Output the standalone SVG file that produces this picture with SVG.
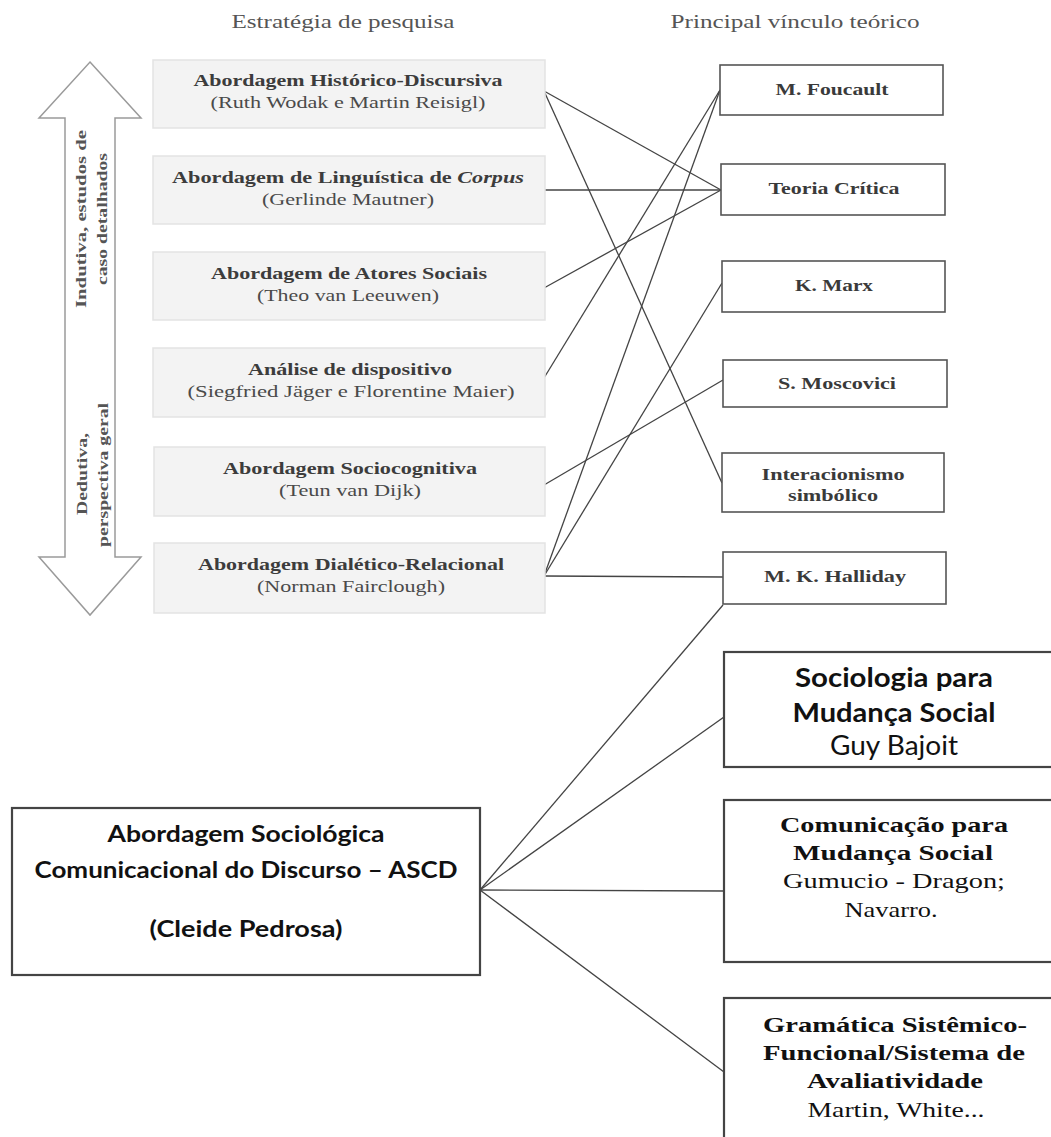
<svg xmlns="http://www.w3.org/2000/svg" width="1051" height="1137" viewBox="0 0 1051 1137">
<style>
.hdr{font-family:"Liberation Serif","Times New Roman",serif;font-size:19px;fill:#555;text-anchor:middle}
.lb{fill:#f3f3f3;stroke:#e3e3e3;stroke-width:1.5}
.lt{font-family:"Liberation Serif","Times New Roman",serif;font-size:17px;font-weight:bold;fill:#3c3c3c;text-anchor:middle}
.ls{font-family:"Liberation Serif","Times New Roman",serif;font-size:17px;fill:#4a4a4a;text-anchor:middle}
.rb{fill:#fff;stroke:#555;stroke-width:1.6}
.rt{font-family:"Liberation Serif","Times New Roman",serif;font-size:17px;font-weight:bold;fill:#3a3a3a;text-anchor:middle}
.at{font-family:"Liberation Serif","Times New Roman",serif;font-size:15px;font-weight:bold;fill:#555;text-anchor:middle}
.bb{fill:#fff;stroke:#444;stroke-width:2.2}
.cb{font-family:"Lato","Open Sans",sans-serif;font-weight:bold;fill:#111;text-anchor:middle}
.cr{font-family:"Lato","Open Sans",sans-serif;fill:#111;text-anchor:middle}
.sb{font-family:"Liberation Serif","Times New Roman",serif;font-size:22px;font-weight:bold;fill:#111;text-anchor:middle}
.sr{font-family:"Liberation Serif","Times New Roman",serif;font-size:22px;fill:#111;text-anchor:middle}
.cn{stroke:#444;stroke-width:1.3;fill:none}
</style>
<rect x="0" y="0" width="1051" height="1137" fill="#fff"/>

<text class="hdr" x="343" y="28" textLength="223" lengthAdjust="spacingAndGlyphs">Estratégia de pesquisa</text>
<text class="hdr" x="795" y="28" textLength="249" lengthAdjust="spacingAndGlyphs">Principal vínculo teórico</text>

<g id="arrow">
<polygon points="90,62 141,118 115,118 115,557 141,557 90,615 39,557 65,557 65,118 39,118" fill="#fff" stroke="#9a9a9a" stroke-width="1.5"/>
<text class="at" transform="translate(86,219) rotate(-90)" textLength="178" lengthAdjust="spacingAndGlyphs">Indutiva, estudos de</text>
<text class="at" transform="translate(107,219) rotate(-90)" textLength="132" lengthAdjust="spacingAndGlyphs">caso detalhados</text>
<text class="at" transform="translate(87,474) rotate(-90)" textLength="82" lengthAdjust="spacingAndGlyphs">Dedutiva,</text>
<text class="at" transform="translate(108,475) rotate(-90)" textLength="144" lengthAdjust="spacingAndGlyphs">perspectiva geral</text>
</g>

<g id="connectors">
<line class="cn" x1="544" y1="91" x2="721" y2="190"/>
<line class="cn" x1="544" y1="91" x2="722" y2="483"/>
<line class="cn" x1="544" y1="190" x2="721" y2="190"/>
<line class="cn" x1="544" y1="288" x2="721" y2="190"/>
<line class="cn" x1="544" y1="378" x2="720" y2="90"/>
<line class="cn" x1="544" y1="485" x2="723" y2="380"/>
<line class="cn" x1="544" y1="576" x2="720" y2="90"/>
<line class="cn" x1="544" y1="576" x2="722" y2="283"/>
<line class="cn" x1="544" y1="576" x2="723" y2="577"/>
<line class="cn" x1="723" y1="605" x2="480" y2="890"/>
<line class="cn" x1="480" y1="890" x2="724" y2="717"/>
<line class="cn" x1="480" y1="890" x2="724" y2="891"/>
<line class="cn" x1="480" y1="890" x2="724" y2="1072"/>
</g>

<g id="s1">
<rect class="lb" x="153" y="60" width="392" height="68"/>
<text class="lt" x="348" y="86" textLength="309" lengthAdjust="spacingAndGlyphs">Abordagem Histórico-Discursiva</text>
<text class="ls" x="348" y="108" textLength="275" lengthAdjust="spacingAndGlyphs">(Ruth Wodak e Martin Reisigl)</text>
</g>
<g id="s2">
<rect class="lb" x="153" y="156" width="392" height="68"/>
<text class="lt" x="348" y="183" textLength="352" lengthAdjust="spacingAndGlyphs">Abordagem de Linguística de <tspan font-style="italic">Corpus</tspan></text>
<text class="ls" x="348" y="205" textLength="172" lengthAdjust="spacingAndGlyphs">(Gerlinde Mautner)</text>
</g>
<g id="s3">
<rect class="lb" x="153" y="252" width="392" height="68"/>
<text class="lt" x="349" y="279" textLength="276" lengthAdjust="spacingAndGlyphs">Abordagem de Atores Sociais</text>
<text class="ls" x="348" y="301" textLength="182" lengthAdjust="spacingAndGlyphs">(Theo van Leeuwen)</text>
</g>
<g id="s4">
<rect class="lb" x="153" y="348" width="392" height="69"/>
<text class="lt" x="350" y="375" textLength="204" lengthAdjust="spacingAndGlyphs">Análise de dispositivo</text>
<text class="ls" x="351" y="397" textLength="327" lengthAdjust="spacingAndGlyphs">(Siegfried Jäger e Florentine Maier)</text>
</g>
<g id="s5">
<rect class="lb" x="154" y="447" width="391" height="69"/>
<text class="lt" x="350" y="474" textLength="254" lengthAdjust="spacingAndGlyphs">Abordagem Sociocognitiva</text>
<text class="ls" x="350" y="496" textLength="142" lengthAdjust="spacingAndGlyphs">(Teun van Dijk)</text>
</g>
<g id="s6">
<rect class="lb" x="154" y="543" width="391" height="70"/>
<text class="lt" x="351" y="570" textLength="306" lengthAdjust="spacingAndGlyphs">Abordagem Dialético-Relacional</text>
<text class="ls" x="351" y="592" textLength="188" lengthAdjust="spacingAndGlyphs">(Norman Fairclough)</text>
</g>

<g id="t1">
<rect class="rb" x="720" y="65" width="223" height="50"/>
<text class="rt" x="832" y="95" textLength="113" lengthAdjust="spacingAndGlyphs">M. Foucault</text>
</g>
<g id="t2">
<rect class="rb" x="721" y="164" width="224" height="51"/>
<text class="rt" x="834" y="194" textLength="131" lengthAdjust="spacingAndGlyphs">Teoria Crítica</text>
</g>
<g id="t3">
<rect class="rb" x="722" y="261" width="223" height="51"/>
<text class="rt" x="834" y="291" textLength="78" lengthAdjust="spacingAndGlyphs">K. Marx</text>
</g>
<g id="t4">
<rect class="rb" x="723" y="360" width="224" height="47"/>
<text class="rt" x="837" y="389" textLength="118" lengthAdjust="spacingAndGlyphs">S. Moscovici</text>
</g>
<g id="t5">
<rect class="rb" x="722" y="453" width="222" height="59"/>
<text class="rt" x="833" y="480" textLength="143" lengthAdjust="spacingAndGlyphs">Interacionismo</text>
<text class="rt" x="833" y="501" textLength="90" lengthAdjust="spacingAndGlyphs">simbólico</text>
</g>
<g id="t6">
<rect class="rb" x="723" y="552" width="223" height="52"/>
<text class="rt" x="835" y="582" textLength="142" lengthAdjust="spacingAndGlyphs">M. K. Halliday</text>
</g>

<g id="ascd">
<rect class="bb" x="12" y="808" width="468" height="167"/>
<text class="cb" x="246" y="842" font-size="23" textLength="277" lengthAdjust="spacingAndGlyphs">Abordagem Sociológica</text>
<text class="cb" x="246" y="878" font-size="23" textLength="423" lengthAdjust="spacingAndGlyphs">Comunicacional do Discurso – ASCD</text>
<text class="cb" x="246" y="937" font-size="23" textLength="193" lengthAdjust="spacingAndGlyphs">(Cleide Pedrosa)</text>
</g>

<g id="b1">
<rect class="bb" x="724" y="652" width="340" height="115"/>
<text class="cb" x="894" y="687" font-size="26" textLength="198" lengthAdjust="spacingAndGlyphs">Sociologia para</text>
<text class="cb" x="894" y="722" font-size="26" textLength="203" lengthAdjust="spacingAndGlyphs">Mudança Social</text>
<text class="cr" x="894" y="755" font-size="26" textLength="128" lengthAdjust="spacingAndGlyphs">Guy Bajoit</text>
</g>
<g id="b2">
<rect class="bb" x="724" y="800" width="340" height="162"/>
<text class="sb" x="894" y="832" textLength="228" lengthAdjust="spacingAndGlyphs">Comunicação para</text>
<text class="sb" x="893" y="860" textLength="200" lengthAdjust="spacingAndGlyphs">Mudança Social</text>
<text class="sr" x="894" y="888" textLength="222" lengthAdjust="spacingAndGlyphs">Gumucio - Dragon;</text>
<text class="sr" x="891" y="917" textLength="93" lengthAdjust="spacingAndGlyphs">Navarro.</text>
</g>
<g id="b3">
<rect class="bb" x="724" y="998" width="340" height="160"/>
<text class="sb" x="895" y="1032" textLength="264" lengthAdjust="spacingAndGlyphs">Gramática Sistêmico-</text>
<text class="sb" x="894" y="1060" textLength="262" lengthAdjust="spacingAndGlyphs">Funcional/Sistema de</text>
<text class="sb" x="895" y="1088" textLength="176" lengthAdjust="spacingAndGlyphs">Avaliatividade</text>
<text class="sr" x="896" y="1117" textLength="177" lengthAdjust="spacingAndGlyphs">Martin, White...</text>
</g>
</svg>
